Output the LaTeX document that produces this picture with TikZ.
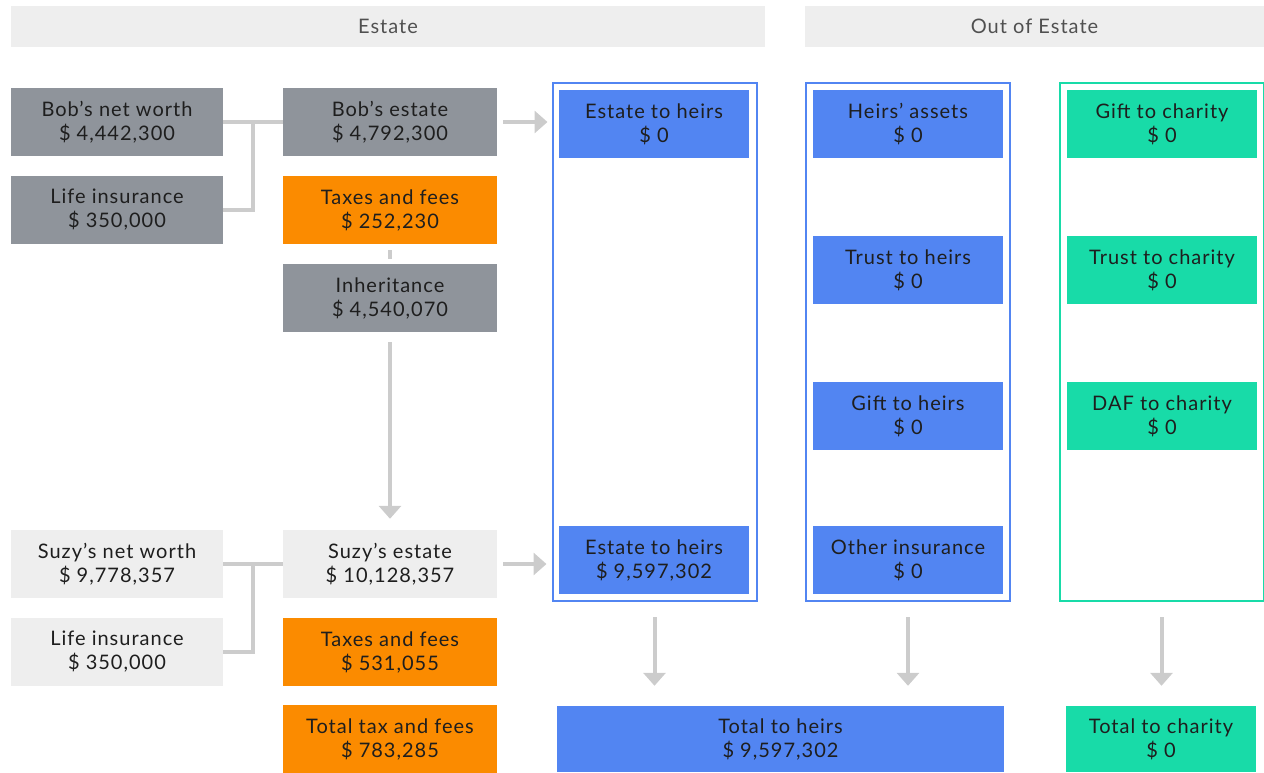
\documentclass[tikz,border=0pt]{standalone}
\usepackage{fontspec}
\setmainfont{Lato}[LetterSpace=5]
\usetikzlibrary{arrows.meta}
\definecolor{hdr}{HTML}{EEEEEE}
\definecolor{hdrtxt}{HTML}{505050}
\definecolor{dgray}{HTML}{8F949B}
\definecolor{lgray}{HTML}{EEEEEE}
\definecolor{orng}{HTML}{FB8B00}
\definecolor{blu}{HTML}{5285F2}
\definecolor{grn}{HTML}{18DBA8}
\definecolor{txt}{HTML}{1E1E1E}
\definecolor{conn}{HTML}{CCCCCC}
\begin{document}
\begin{tikzpicture}[x=1pt,y=-1pt,
  box/.style={minimum height=68pt, inner sep=0pt, align=center,
    font=\fontsize{20}{24}\selectfont, text=txt},
  lbox/.style={box, minimum width=212pt},
  mbox/.style={box, minimum width=214pt},
  cbox/.style={box, minimum width=190pt},
  hdrbox/.style={fill=hdr, minimum height=41pt, inner sep=0pt,
    font=\fontsize{20}{24}\selectfont, text=hdrtxt},
  container/.style={line width=2pt, minimum width=204pt, minimum height=518pt, inner sep=0pt},
  connline/.style={draw=conn, line width=4pt},
  connarrow/.style={draw=conn, line width=4pt, -{Triangle[width=22pt,length=13pt]}}
]
\useasboundingbox (0,0) rectangle (1264,772);

% headers
\node[hdrbox, minimum width=754pt] (hE) at (388,26.5) {Estate};
\node[hdrbox, minimum width=459pt] (hO) at (1034.5,26.5) {Out of Estate};

% Bob
\node[lbox, fill=dgray] (bnw) at (117,122) {Bob’s net worth\\\$ 4,442,300};
\node[lbox, fill=dgray] (bli) at (117,210) {Life insurance\\\$ 350,000};
\node[mbox, fill=dgray] (be) at (390,122) {Bob’s estate\\\$ 4,792,300};
\node[mbox, fill=orng] (btax) at (390,210) {Taxes and fees\\\$ 252,230};
\node[mbox, fill=dgray] (inh) at (390,298) {Inheritance\\\$ 4,540,070};

% Suzy
\node[lbox, fill=lgray] (snw) at (117,564) {Suzy’s net worth\\\$ 9,778,357};
\node[lbox, fill=lgray] (sli) at (117,652) {Life insurance\\\$ 350,000};
\node[mbox, fill=lgray] (se) at (390,564) {Suzy’s estate\\\$ 10,128,357};
\node[mbox, fill=orng] (stax) at (390,652) {Taxes and fees\\\$ 531,055};
\node[mbox, fill=orng] (ttax) at (390,739) {Total tax and fees\\\$ 783,285};

% containers
\node[container, draw=blu] (c1) at (654.5,342) {};
\node[container, draw=blu] (c2) at (908,342) {};
\node[container, draw=grn] (c3) at (1161.5,342) {};

% column 1
\node[cbox, fill=blu] (eh1) at (654,124) {Estate to heirs\\\$ 0};
\node[cbox, fill=blu] (eh2) at (654,560) {Estate to heirs\\\$ 9,597,302};

% column 2
\node[cbox, fill=blu] (ha) at (908,124) {Heirs’ assets\\\$ 0};
\node[cbox, fill=blu] (th) at (908,270) {Trust to heirs\\\$ 0};
\node[cbox, fill=blu] (gh) at (908,416) {Gift to heirs\\\$ 0};
\node[cbox, fill=blu] (oi) at (908,560) {Other insurance\\\$ 0};

% column 3
\node[cbox, fill=grn] (gc) at (1162,124) {Gift to charity\\\$ 0};
\node[cbox, fill=grn] (tc) at (1162,270) {Trust to charity\\\$ 0};
\node[cbox, fill=grn] (dc) at (1162,416) {DAF to charity\\\$ 0};

% totals
\node[box, fill=blu, minimum width=447pt, minimum height=66pt] (toth) at (780.5,739) {Total to heirs\\\$ 9,597,302};
\node[cbox, fill=grn, minimum height=66pt] (totc) at (1161,739) {Total to charity\\\$ 0};

% connectors Bob
\coordinate (j1) at (253,122);
\draw[connline] (bnw.east) -- (be.west);
\draw[connline] (bli.east) -| (j1);
\draw[connline] ([yshift=-6pt]btax.south) -- ([yshift=5pt]inh.north);
\draw[connarrow, shorten <=6pt, shorten >=4pt] (be.east) -- (be.east -| c1.west);
\draw[connarrow, shorten <=10pt, shorten >=11pt] (inh.south) -- (se.north);

% connectors Suzy
\coordinate (j2) at (253,564);
\draw[connline] (snw.east) -- (se.west);
\draw[connline] (sli.east) -| (j2);
\draw[connarrow, shorten <=6pt, shorten >=5pt] (se.east) -- (se.east -| c1.west);

% down arrows
\draw[connarrow, shorten <=15pt, shorten >=20pt] (c1.south) -- (c1.south |- toth.north);
\draw[connarrow, shorten <=15pt, shorten >=20pt] (c2.south) -- (c2.south |- toth.north);
\draw[connarrow, shorten <=15pt, shorten >=20pt] (c3.south) -- (c3.south |- totc.north);
\end{tikzpicture}
\end{document}
